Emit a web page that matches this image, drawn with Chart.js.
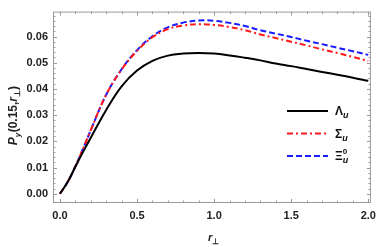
<!DOCTYPE html>
<html>
<head>
<meta charset="utf-8">
<script src="https://cdn.jsdelivr.net/npm/chart.js@4.4.1/dist/chart.umd.min.js"></script>
<style>
  html, body { margin: 0; padding: 0; background: #fff; }
  #wrap { width: 382px; height: 247px; }
</style>
</head>
<body>
<div id="wrap"><canvas id="chart" width="382" height="247"></canvas></div>
<script>
const rPerp = [0, 0.05, 0.1, 0.15, 0.2, 0.3, 0.4, 0.5, 0.6, 0.7, 0.8, 0.9, 1.0, 1.1, 1.2, 1.3, 1.4, 1.5, 1.6, 1.7, 1.8, 1.9, 2.0];
const lambdaU = [0, 0.0045, 0.0103, 0.0160, 0.0214, 0.0320, 0.0410, 0.0470, 0.0507, 0.0527, 0.0535, 0.0537, 0.0535, 0.0528, 0.0519, 0.0509, 0.0497, 0.0487, 0.0476, 0.0465, 0.0454, 0.0443, 0.0431];
const sigmaU = [0, 0.0045, 0.0105, 0.0172, 0.0243, 0.0378, 0.0474, 0.0545, 0.0597, 0.0628, 0.0642, 0.0647, 0.0644, 0.0636, 0.0624, 0.0608, 0.0594, 0.0580, 0.0566, 0.0551, 0.0537, 0.0522, 0.0507];
const xiU = [0, 0.0045, 0.0105, 0.0172, 0.0243, 0.0378, 0.0475, 0.0548, 0.0601, 0.0635, 0.0653, 0.0661, 0.0660, 0.0652, 0.0640, 0.0624, 0.0611, 0.0598, 0.0584, 0.0571, 0.0557, 0.0544, 0.0530];

const xTicks = [0, 0.5, 1.0, 1.5, 2.0];
const yTicks = [0, 0.01, 0.02, 0.03, 0.04, 0.05, 0.06];

function pts(ys) {
  return rPerp.map((x, i) => ({ x: x, y: ys[i] }));
}

// draws frame, inward ticks on all sides, axis titles and legend
const framePlugin = {
  id: "frame",
  afterDraw(chart) {
    const ctx = chart.ctx;
    const a = chart.chartArea;
    const xs = chart.scales.x;
    const ys = chart.scales.y;
    ctx.save();
    ctx.strokeStyle = "#9a9a9a";
    ctx.lineWidth = 1;
    ctx.strokeRect(a.left + 0.5, a.top + 0.5, a.right - a.left - 1, a.bottom - a.top - 1);

    ctx.beginPath();
    for (let v = 0; v <= 2.0001; v += 0.1) {
      const major = Math.abs(v * 2 - Math.round(v * 2)) < 1e-6;
      const len = major ? 4 : 2.5;
      const px = Math.round(xs.getPixelForValue(v)) + 0.5;
      ctx.moveTo(px, a.bottom); ctx.lineTo(px, a.bottom - len);
      ctx.moveTo(px, a.top); ctx.lineTo(px, a.top + len);
    }
    for (let v = 0; v <= 0.0681; v += 0.002) {
      const major = Math.abs(v * 100 - Math.round(v * 100)) < 1e-6;
      const len = major ? 4 : 2.5;
      const py = Math.round(ys.getPixelForValue(v)) + 0.5;
      ctx.moveTo(a.left, py); ctx.lineTo(a.left + len, py);
      ctx.moveTo(a.right, py); ctx.lineTo(a.right - len, py);
    }
    ctx.stroke();

    // x title
    ctx.fillStyle = "#222";
    ctx.textBaseline = "alphabetic";
    ctx.font = "italic bold 11px 'Liberation Sans', Arial";
    const xc = (a.left + a.right) / 2;
    ctx.fillText("r", xc - 4, 241);
    ctx.font = "bold 8px 'Liberation Sans', Arial";
    ctx.fillText("⊥", xc + 0.5, 244);

    // y title
    ctx.save();
    ctx.translate(17, (a.top + a.bottom) / 2);
    ctx.rotate(-Math.PI / 2);
    let x0 = -38;
    ctx.font = "italic bold 12px 'Liberation Sans', Arial";
    ctx.fillText("P", x0, 0); x0 += ctx.measureText("P").width;
    ctx.font = "italic bold 8px 'Liberation Sans', Arial";
    ctx.fillText("y", x0, 3); x0 += ctx.measureText("y").width + 0.5;
    ctx.font = "bold 12px 'Liberation Sans', Arial";
    ctx.fillText("(0.15,", x0, 0); x0 += ctx.measureText("(0.15,").width;
    ctx.font = "italic bold 12px 'Liberation Sans', Arial";
    ctx.fillText("r", x0, 0); x0 += ctx.measureText("r").width;
    ctx.font = "bold 8px 'Liberation Sans', Arial";
    ctx.fillText("⊥", x0, 3); x0 += ctx.measureText("⊥").width;
    ctx.font = "bold 12px 'Liberation Sans', Arial";
    ctx.fillText(")", x0, 0);
    ctx.restore();

    // legend
    const items = [
      { ds: chart.data.datasets[0], main: "Λ", sub: "u", sup: "" },
      { ds: chart.data.datasets[1], main: "Σ", sub: "u", sup: "" },
      { ds: chart.data.datasets[2], main: "Ξ", sub: "u", sup: "0" }
    ];
    items.forEach((it, i) => {
      const ly = 111 + i * 22.5;
      ctx.strokeStyle = it.ds.borderColor;
      ctx.lineWidth = 2;
      ctx.setLineDash(it.ds.borderDash || []);
      ctx.beginPath();
      ctx.moveTo(287, ly); ctx.lineTo(328, ly);
      ctx.stroke();
      ctx.setLineDash([]);
      ctx.fillStyle = "#111";
      ctx.font = "bold 12px 'Liberation Sans', Arial";
      ctx.fillText(it.main, 335, ly + 4);
      const w = ctx.measureText(it.main).width;
      ctx.font = "italic bold 9px 'Liberation Sans', Arial";
      ctx.fillText(it.sub, 335 + w, ly + 7);
      if (it.sup) {
        ctx.font = "bold 8px 'Liberation Sans', Arial";
        ctx.fillText(it.sup, 335 + w, ly - 2);
      }
    });
    ctx.restore();
  }
};

new Chart(document.getElementById("chart"), {
  type: "line",
  data: {
    datasets: [
      { label: "Λu", data: pts(lambdaU), borderColor: "#000000", borderWidth: 2, borderDash: [] },
      { label: "Σu", data: pts(sigmaU), borderColor: "#ff1a1a", borderWidth: 2, borderDash: [6, 3, 2, 3] },
      { label: "Ξu0", data: pts(xiU), borderColor: "#1a1aff", borderWidth: 2, borderDash: [6, 3] }
    ]
  },
  options: {
    responsive: false,
    animation: false,
    layout: { padding: { top: 4, right: 8, left: 0, bottom: 0 } },
    elements: {
      point: { radius: 0 },
      line: { tension: 0.4, fill: false }
    },
    plugins: { legend: { display: false }, tooltip: { enabled: false } },
    scales: {
      x: {
        type: "linear",
        min: -0.045,
        max: 2.017,
        grid: { display: false, drawTicks: false },
        border: { display: false },
        afterBuildTicks: s => { s.ticks = xTicks.map(v => ({ value: v })); },
        afterFit: s => { s.height = 44; },
        ticks: {
          padding: 6,
          color: "#222",
          font: { family: "'Liberation Sans', Arial", size: 11, weight: "bold" },
          callback: v => v.toFixed(1)
        }
      },
      y: {
        min: -0.0035,
        max: 0.0695,
        grid: { display: false, drawTicks: false },
        border: { display: false },
        afterBuildTicks: s => { s.ticks = yTicks.map(v => ({ value: v })); },
        afterFit: s => { s.width = 53; },
        ticks: {
          padding: 5,
          color: "#222",
          font: { family: "'Liberation Sans', Arial", size: 11, weight: "bold" },
          callback: v => v.toFixed(2)
        }
      }
    }
  },
  plugins: [framePlugin]
});
</script>
</body>
</html>
